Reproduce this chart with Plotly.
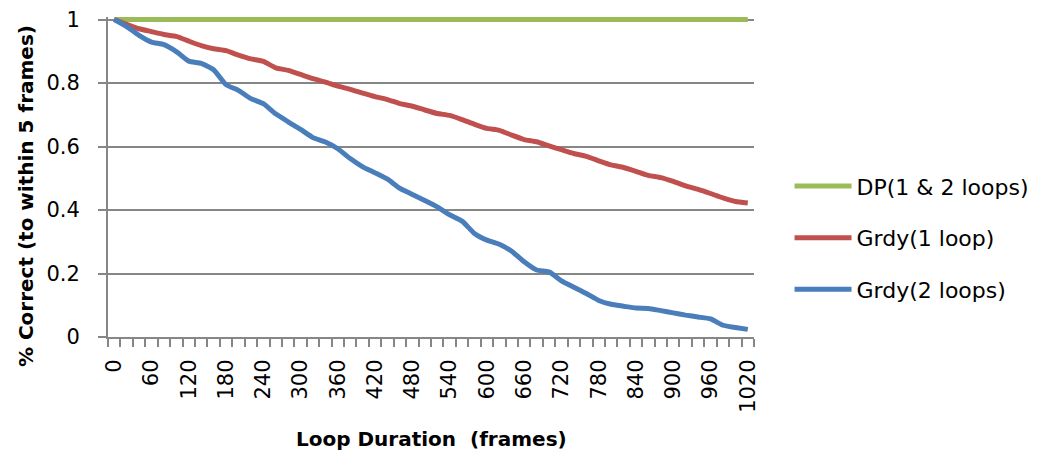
import plotly.graph_objects as go

frames = list(range(0, 1021, 20))
dp_both = [1.0] * len(frames)
grdy_1loop = [1.0, 0.985, 0.971, 0.962, 0.953, 0.947, 0.932, 0.918, 0.908, 0.902,
              0.888, 0.876, 0.868, 0.848, 0.840, 0.827, 0.814, 0.803, 0.790, 0.780,
              0.768, 0.757, 0.748, 0.735, 0.727, 0.715, 0.704, 0.698, 0.685, 0.670,
              0.657, 0.651, 0.636, 0.622, 0.615, 0.602, 0.590, 0.578, 0.569, 0.555,
              0.542, 0.534, 0.522, 0.509, 0.502, 0.490, 0.476, 0.465, 0.452, 0.438,
              0.427, 0.422]
grdy_2loops = [1.0, 0.978, 0.950, 0.929, 0.921, 0.899, 0.869, 0.862, 0.842, 0.795,
               0.777, 0.751, 0.735, 0.703, 0.678, 0.654, 0.628, 0.614, 0.593, 0.562,
               0.536, 0.517, 0.497, 0.468, 0.449, 0.430, 0.410, 0.385, 0.365, 0.326,
               0.305, 0.292, 0.270, 0.237, 0.211, 0.205, 0.177, 0.157, 0.137, 0.115,
               0.103, 0.097, 0.091, 0.090, 0.083, 0.076, 0.069, 0.063, 0.057, 0.037,
               0.030, 0.024]
x_ticks = list(range(0, 1021, 60))
y_ticks = [0, 0.2, 0.4, 0.6, 0.8, 1]
y_tick_labels = ["0", "0.2", "0.4", "0.6", "0.8", "1"]

FONT = "DejaVu Sans"
GRAY = "#868686"

fig = go.Figure()
series = [
    ("DP(1 & 2 loops)", dp_both, "#9BBB59"),
    ("Grdy(1 loop)", grdy_1loop, "#C0504D"),
    ("Grdy(2 loops)", grdy_2loops, "#4A7EBB"),
]
for name, ys, color in series:
    fig.add_trace(go.Scatter(
        x=frames, y=ys, mode="lines", name=name, legendgroup=name,
        line=dict(color=color, width=5, shape="spline", smoothing=0.5),
    ))

fig.update_layout(
    width=1038, height=454,
    margin=dict(l=108, r=284, t=16.5, b=117, autoexpand=False),
    paper_bgcolor="white", plot_bgcolor="white",
    font=dict(family=FONT, size=21, color="black"),
    showlegend=True,
    legend=dict(
        x=1.055, xanchor="left", y=0.31, yanchor="middle",
        font=dict(family=FONT, size=22, color="black"),
        tracegroupgap=20, itemwidth=57, bgcolor="rgba(0,0,0,0)",
    ),
    xaxis=dict(
        range=[-10, 1030], tickmode="array", tickvals=x_ticks,
        ticktext=[str(v) for v in x_ticks], tickangle=-90,
        ticks="", showgrid=False, zeroline=False, automargin=False,
        showline=True, linecolor=GRAY, linewidth=2,
        ticklabelstandoff=12,
        minor=dict(tickmode="linear", tick0=-10, dtick=20, ticks="outside",
                   ticklen=8, tickwidth=2, tickcolor=GRAY, showgrid=False),
        tickfont=dict(family=FONT, size=21),
    ),
    yaxis=dict(
        range=[0, 1.008], tickmode="array", tickvals=y_ticks, ticktext=y_tick_labels,
        ticks="outside", ticklen=8, tickwidth=2, tickcolor=GRAY,
        showgrid=True, gridcolor=GRAY, gridwidth=2, zeroline=False, automargin=False,
        showline=True, linecolor=GRAY, linewidth=2,
        ticklabelstandoff=14,
        tickfont=dict(family=FONT, size=21),
    ),
    annotations=[
        dict(text="<b>% Correct (to within 5 frames)</b>", xref="paper", yref="paper",
             x=-(108 - 26) / 646, y=(337 - 197) / 318, xanchor="center", yanchor="middle",
             textangle=-90, showarrow=False, font=dict(family=FONT, size=20)),
        dict(text="<b>Loop Duration  (frames)</b>", xref="paper", yref="paper",
             x=(431 - 108) / 646, y=-(438 - 337) / 318, xanchor="center", yanchor="middle",
             showarrow=False, font=dict(family=FONT, size=20)),
    ],
)

fig.write_html("out.html", config={"displayModeBar": False})
with open("out.html", "r", encoding="utf-8") as f:
    html = f.read()
html = html.replace("<body>", '<body style="margin:0;padding:0;overflow:hidden">', 1)
with open("out.html", "w", encoding="utf-8") as f:
    f.write(html)
